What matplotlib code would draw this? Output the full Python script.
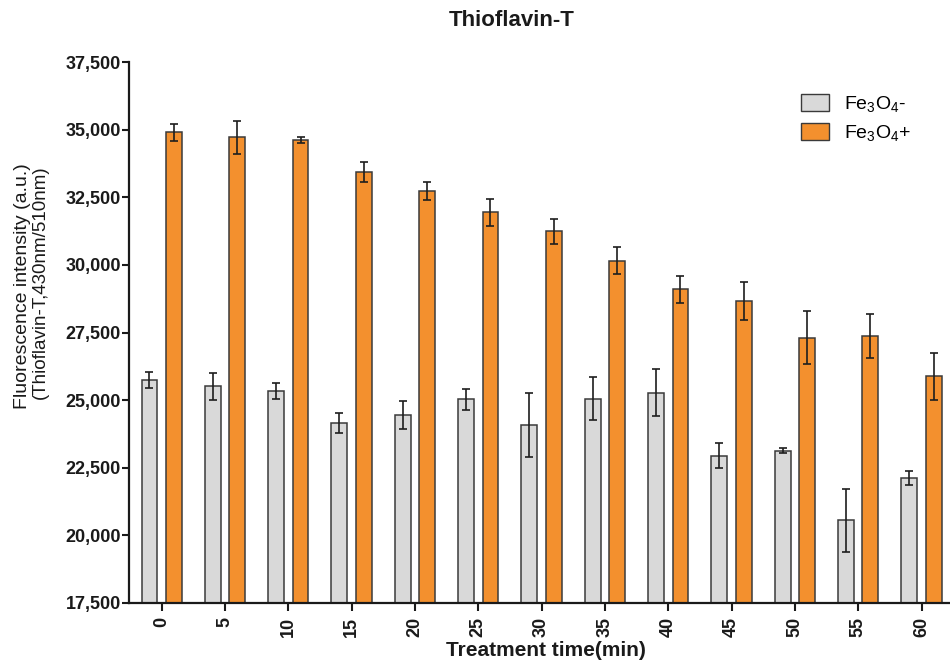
import matplotlib
matplotlib.use("Agg")
import matplotlib.pyplot as plt
import numpy as np
from matplotlib.patches import Patch
from matplotlib.ticker import FuncFormatter, MultipleLocator

# Thioflavin-T fluorescence over treatment time, without / with Fe3O4
times = [0, 5, 10, 15, 20, 25, 30, 35, 40, 45, 50, 55, 60]
fe_minus = [25750, 25520, 25330, 24160, 24450, 25030, 24080, 25050, 25280, 22950, 23130, 20560, 22120]
fe_minus_err = [300, 500, 300, 380, 520, 380, 1200, 790, 860, 460, 100, 1170, 260]
fe_plus = [34900, 34720, 34630, 33450, 32720, 31940, 31240, 30160, 29090, 28650, 27310, 27370, 25880]
fe_plus_err = [310, 610, 110, 370, 330, 490, 450, 490, 490, 700, 975, 820, 870]

series_labels = [r"Fe$_3$O$_4$-", r"Fe$_3$O$_4$+"]
grey = "#d9d9d9"
orange = "#f3902e"
edge = "#3a3a3a"

plt.rcParams["font.family"] = ["Liberation Sans", "DejaVu Sans"]
plt.rcParams["mathtext.fontset"] = "custom"
plt.rcParams["mathtext.rm"] = "Liberation Sans"
plt.rcParams["mathtext.default"] = "regular"

W, H = 950, 661
fig = plt.figure(figsize=(W / 100, H / 100), dpi=100)

# axes box in pixel terms
ax_left, ax_right, ax_top, ax_bottom = 129, 950, 62, 603
ax = fig.add_axes([ax_left / W, 1 - ax_bottom / H,
                   (ax_right - ax_left) / W, (ax_bottom - ax_top) / H])

x = np.arange(len(times))
bw = 0.25
off = 0.193
err_kw = dict(ecolor="#1e1e1e", elinewidth=1.2, capsize=3, capthick=1.2)

ax.bar(x - off, fe_minus, bw, color=grey, edgecolor=edge,
       linewidth=1.1, yerr=fe_minus_err, error_kw=err_kw, zorder=2)
ax.bar(x + off, fe_plus, bw, color=orange, edgecolor=edge,
       linewidth=1.1, yerr=fe_plus_err, error_kw=err_kw, zorder=2)

ax.set_ylim(17500, 37500)
ax.set_xlim(-0.516, 12.45)
ax.yaxis.set_major_locator(MultipleLocator(2500))
ax.yaxis.set_major_formatter(FuncFormatter(lambda v, p: f"{int(v):,}"))
ax.set_xticks(x)
ax.set_xticklabels([str(t) for t in times], rotation=90)

for s in ["top", "right"]:
    ax.spines[s].set_visible(False)
for s in ["left", "bottom"]:
    ax.spines[s].set_linewidth(1.6)
    ax.spines[s].set_color("#1a1a1a")

ax.tick_params(axis="y", direction="out", length=5, width=1.5, pad=1,
               labelsize=13, colors="#1a1a1a")
ax.tick_params(axis="x", direction="out", length=6, width=1.5, pad=4,
               labelsize=13, colors="#1a1a1a")
for lab in ax.get_xticklabels() + ax.get_yticklabels():
    lab.set_fontweight("bold")

fig.text(512 / W, 1 - 21 / H, "Thioflavin-T", ha="center", va="center",
         fontsize=16, fontweight="bold", color="#1a1a1a")
fig.text(546 / W, 1 - 651 / H, "Treatment time(min)", ha="center",
         va="center", fontsize=15, fontweight="bold", color="#1a1a1a")
fig.text(23 / W, 1 - 163 / H, "Fluorescence intensity (a.u.)", rotation=90,
         ha="center", va="top", fontsize=14, color="#1a1a1a")
fig.text(40 / W, 1 - 165 / H, "(Thioflavin-T,430nm/510nm)", rotation=90,
         ha="center", va="top", fontsize=13.5, color="#1a1a1a")

handles = [Patch(facecolor=grey, edgecolor=edge, linewidth=1.0),
           Patch(facecolor=orange, edgecolor=edge, linewidth=1.0)]
fig.legend(handles, series_labels, loc="upper left",
           bbox_to_anchor=(801 / W, 1 - 94 / H), frameon=False,
           fontsize=14, handlelength=1.45, handleheight=0.95,
           handletextpad=0.75, labelspacing=0.45, borderaxespad=0,
           borderpad=0)

fig.savefig("out.png", dpi=100)
